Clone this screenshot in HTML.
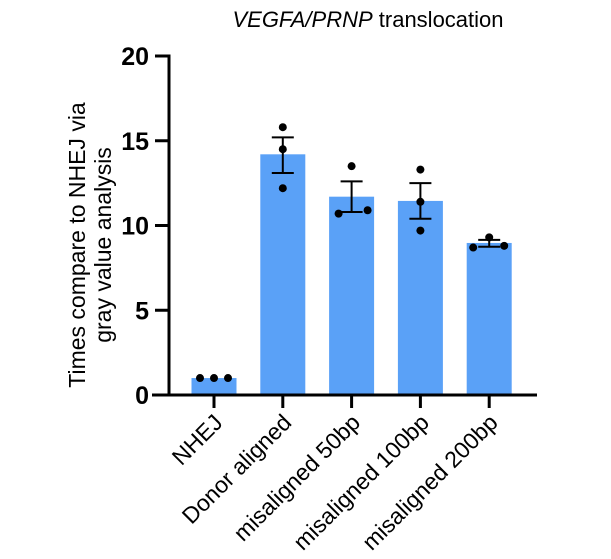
<!DOCTYPE html>
<html><head><meta charset="utf-8"><style>
body{margin:0;background:#fff;width:611px;height:554px;overflow:hidden}
text{font-family:"Liberation Sans",Arial,sans-serif}
</style></head><body>
<svg id="chart" width="611" height="554" xmlns="http://www.w3.org/2000/svg">
<text x="368" y="27" font-size="22" text-anchor="middle"><tspan font-style="italic">VEGFA/PRNP</tspan> translocation</text>
<text transform="translate(85,245) rotate(-90)" font-size="23" text-anchor="middle"><tspan x="0" dy="0">Times compare to NHEJ via</tspan><tspan x="0" dy="26">gray value analysis</tspan></text>
<g id="plot"></g>
</svg>
<script>
const categories=["NHEJ","Donor aligned","misaligned 50bp","misaligned 100bp","misaligned 200bp"];
const means=[1.0,14.2,11.7,11.45,8.97];
const errLow=[1.0,13.1,10.8,10.4,8.75];
const errHigh=[1.0,15.2,12.6,12.5,9.15];
const pts1=[1.0,14.5,10.7,13.3,8.7];
const pts2=[1.0,15.8,13.5,11.4,9.3];
const pts3=[1.0,12.2,10.9,9.7,8.8];
const ptOffsets=[[-14,0,14],[0,0,0],[-13,0,16],[0,0,0],[-16,0,15]];
const yTicks=[0,5,10,15,20];
const NS="http://www.w3.org/2000/svg";
const g=document.getElementById('plot');
const y=v=>395-v*16.95;
const x=i=>214+i*68.8;
function mk(t,a){const e=document.createElementNS(NS,t);for(const k in a)e.setAttribute(k,a[k]);g.appendChild(e);return e;}
categories.forEach((c,i)=>{
  const b=mk('rect',{x:x(i)-22.5,y:y(means[i]),width:45,height:y(0)-y(means[i]),fill:'#5aa1f7'});
  
  
  if(errHigh[i]!==errLow[i]){
    const eg=[mk('line',{x1:x(i),x2:x(i),y1:y(errLow[i]),y2:y(errHigh[i]),stroke:'#000','stroke-width':2}),
    mk('line',{x1:x(i)-11,x2:x(i)+11,y1:y(errLow[i]),y2:y(errLow[i]),stroke:'#000','stroke-width':2}),
    mk('line',{x1:x(i)-11,x2:x(i)+11,y1:y(errHigh[i]),y2:y(errHigh[i]),stroke:'#000','stroke-width':2})];
    eg.forEach(e=>{
    });
  }
  [pts1,pts2,pts3].forEach((p,j)=>{
    const d=mk('circle',{cx:x(i)+ptOffsets[i][j],cy:y(p[i]),r:4,fill:'#000'});
    
    
  });
  const tk=mk('line',{x1:x(i),x2:x(i),y1:395,y2:408,stroke:'#000','stroke-width':3});
  
  
  const t=mk('text',{transform:`translate(${x(i)+10},${424}) rotate(-45)`,'font-size':23,'text-anchor':'end'});
  t.textContent=c;
  
  
});
yTicks.forEach(v=>{
  const l=mk('line',{x1:155,x2:169,y1:y(v),y2:y(v),stroke:'#000','stroke-width':3});
  
  
  const t=mk('text',{x:149,y:y(v)+9,'font-size':25,'font-weight':'bold','text-anchor':'end'});
  t.textContent=v;
  
  
});
const ya=mk('line',{x1:169,x2:169,y1:y(20)-1.5,y2:396.5,stroke:'#000','stroke-width':3});


const xa=mk('line',{x1:152,x2:537,y1:395,y2:395,stroke:'#000','stroke-width':3});


</script>
</body></html>
